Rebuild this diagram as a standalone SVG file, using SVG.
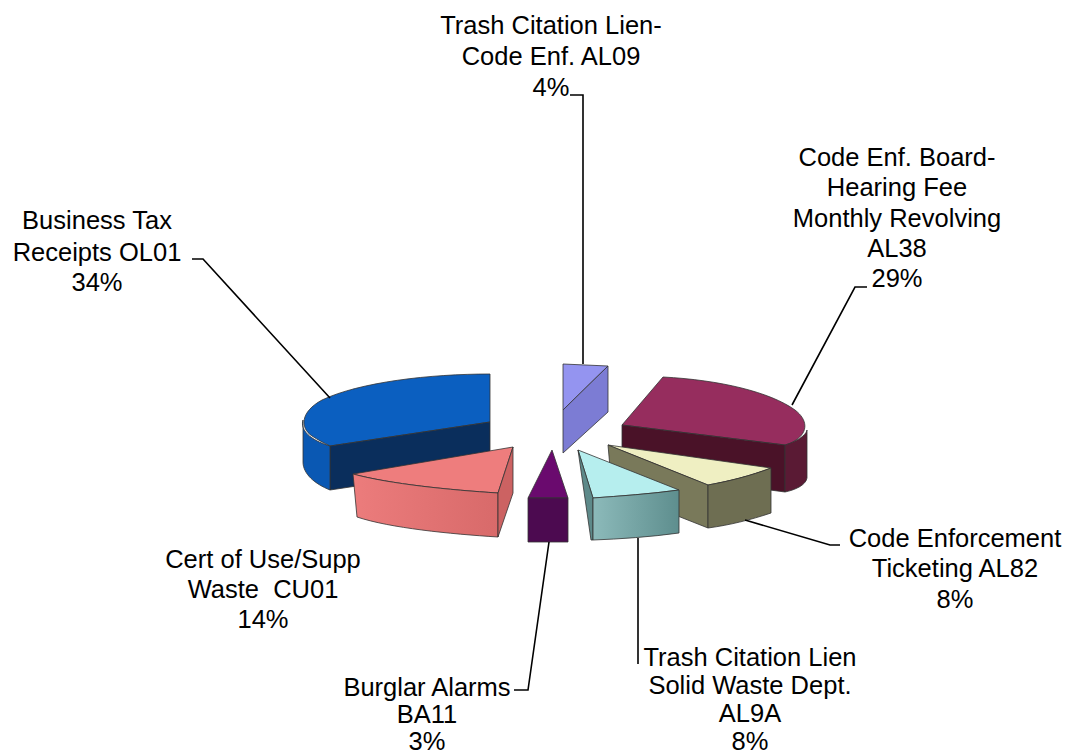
<svg xmlns="http://www.w3.org/2000/svg" width="1081" height="754" viewBox="0 0 1081 754">
<defs>
<style>
.lbl{font-family:"Liberation Sans",Arial,sans-serif;font-size:25.5px;fill:#000;text-anchor:middle}
.ld{fill:none;stroke:#000;stroke-width:1.6}
.e{stroke:#333;stroke-width:0.8;stroke-linejoin:round}
</style>
<linearGradient id="gPink" x1="0" y1="0" x2="1" y2="0"><stop offset="0" stop-color="#EC7C7C"/><stop offset="1" stop-color="#D86A6A"/></linearGradient>
<linearGradient id="gCyan" x1="0" y1="0" x2="1" y2="0"><stop offset="0" stop-color="#8CBABA"/><stop offset="1" stop-color="#5E8E8E"/></linearGradient>
</defs>
<rect width="1081" height="754" fill="#fff"/>
<g id="slice-blue">
<path class="e" d="M490,422 L490,374 C430,374 360,382 322,400 C300,412 300,428 312,436 C318,440 324,443 330,446 Z" fill="#0B5FC0"/>
<path class="e" d="M330,446 L490,422 L490,466 L330,490 Z" fill="#0A2E5C"/>
<path class="e" d="M303,420 C300,430 310,440 330,446 L330,490 C315,484 303,474 303,462 Z" fill="#0A58B3"/>
</g>
<g id="slice-maroon">
<path class="e" d="M663,377 C720,380 770,392 795,410 C808,420 808,432 796,440 C792,443 789,444 785,445 L622,425 Z" fill="#962D5E"/>
<path class="e" d="M622,425 L785,445 L785,492 L622,470 Z" fill="#4A1228"/>
<path class="e" d="M785,445 C795,442 806,436 807,430 L807,478 C806,485 795,490 785,492 Z" fill="#5A1A34"/>
</g>
<g id="slice-lavender">
<path class="e" d="M563,364 L608,366 L563,410 Z" fill="#9494F0"/>
<path class="e" d="M563,410 L608,366 L608,412 L563,453 Z" fill="#7C7CD4"/>
</g>
<g id="slice-olive">
<path class="e" d="M608,445 L771,468 C750,476 730,481 708,485 Z" fill="#EFEFC2"/>
<path class="e" d="M608,445 L708,485 L708,528 L612,490 Z" fill="#79795A"/>
<path class="e" d="M708,485 C730,481 750,476 771,468 L771,513 C750,520 730,525 708,528 Z" fill="#6E6E52"/>
</g>
<g id="slice-pink">
<path class="e" d="M353,474 L513,447 L498,493 C450,490 390,484 353,474 Z" fill="#EE7D7D"/>
<path class="e" d="M353,474 C390,484 450,490 498,493 L498,537 C450,534 390,528 357,517 Z" fill="url(#gPink)"/>
<path class="e" d="M498,493 L513,447 L513,493 L498,537 Z" fill="#CC6262"/>
</g>
<g id="slice-purple">
<path class="e" d="M552,450 L568,498 L528,498 Z" fill="#6A0A6E"/>
<path class="e" d="M528,498 L568,498 L568,542 L528,542 Z" fill="#4C0A50"/>
</g>
<g id="slice-cyan">
<path class="e" d="M578,450 L679,490 C650,494 620,496 593,498 Z" fill="#B6EEEE"/>
<path class="e" d="M578,450 L593,498 L593,540 L591,540 Z" fill="#5E8A8A"/>
<path class="e" d="M593,498 C620,496 650,494 679,490 L679,533 C650,537 620,539 593,540 Z" fill="url(#gCyan)"/>
</g>
<g id="connectors">
<polyline class="ld" points="192,259 203,259 330,398"/>
<polyline class="ld" points="570,95 583,95 583,364"/>
<polyline class="ld" points="867,287 855,287 792,405"/>
<polyline class="ld" points="745,520 830,545 840,545"/>
<polyline class="ld" points="638,538 638,664"/>
<polyline class="ld" points="549,542 528,690 514,690"/>
</g>
<g id="label-business"><text class="lbl"><tspan x="97" y="229">Business Tax</tspan><tspan x="97" y="261">Receipts OL01</tspan><tspan x="97" y="291">34%</tspan></text></g>
<g id="label-al09"><text class="lbl"><tspan x="551" y="34">Trash Citation Lien-</tspan><tspan x="551" y="65">Code Enf. AL09</tspan><tspan x="551" y="96">4%</tspan></text></g>
<g id="label-al38"><text class="lbl"><tspan x="897" y="166">Code Enf. Board-</tspan><tspan x="897" y="196">Hearing Fee</tspan><tspan x="897" y="227">Monthly Revolving</tspan><tspan x="897" y="257">AL38</tspan><tspan x="897" y="287">29%</tspan></text></g>
<g id="label-al82"><text class="lbl"><tspan x="955" y="547">Code Enforcement</tspan><tspan x="955" y="577">Ticketing AL82</tspan><tspan x="955" y="608">8%</tspan></text></g>
<g id="label-al9a"><text class="lbl"><tspan x="750" y="666">Trash Citation Lien</tspan><tspan x="750" y="694">Solid Waste Dept.</tspan><tspan x="750" y="722">AL9A</tspan><tspan x="750" y="750">8%</tspan></text></g>
<g id="label-ba11"><text class="lbl"><tspan x="427" y="696">Burglar Alarms</tspan><tspan x="427" y="723">BA11</tspan><tspan x="427" y="750">3%</tspan></text></g>
<g id="label-cu01"><text class="lbl"><tspan x="263" y="568">Cert of Use/Supp</tspan><tspan x="263" y="598">Waste&#160; CU01</tspan><tspan x="263" y="628">14%</tspan></text></g>
</svg>
